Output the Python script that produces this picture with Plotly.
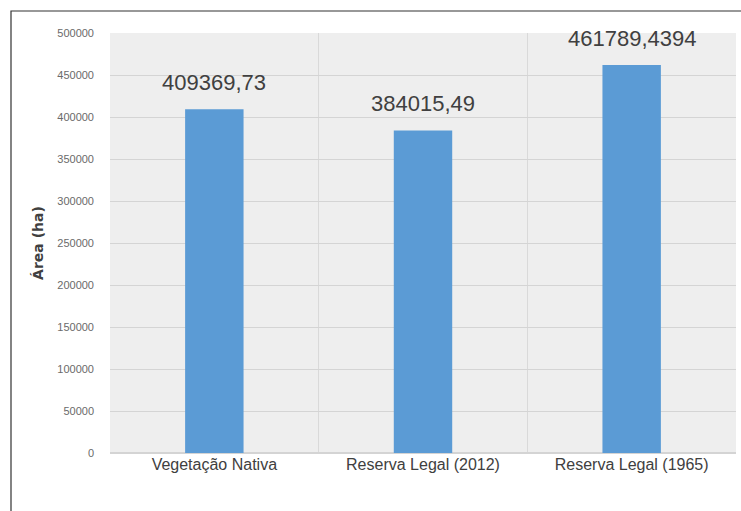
import plotly.graph_objects as go

categories = ["Vegetação Nativa", "Reserva Legal (2012)", "Reserva Legal (1965)"]
values = [409369.73, 384015.49, 461789.4394]
value_labels = ["409369,73", "384015,49", "461789,4394"]
y_ticks = [0, 50000, 100000, 150000, 200000, 250000, 300000, 350000, 400000, 450000, 500000]

W, H = 741, 511
L, R, T, B = 110, 5, 33, 58
pw, ph = W - L - R, H - T - B

fig = go.Figure(go.Bar(
    x=categories, y=values,
    marker=dict(color="#5b9bd5", line=dict(width=0)),
))

for c, v, t in zip(categories, values, value_labels):
    fig.add_annotation(x=c, y=v, text=t, showarrow=False, yanchor="middle", yshift=27,
                       font=dict(family="Liberation Sans, Arial, sans-serif", size=22, color="#404040"))

fig.update_layout(
    width=W, height=H, margin=dict(l=L, r=R, t=T, b=B),
    paper_bgcolor="white", plot_bgcolor="#eeeeee",
    bargap=0.72, showlegend=False,
    xaxis=dict(type="category", tickson="boundaries", showgrid=True, gridcolor="#d9d9d9",
               gridwidth=1, ticks="", showline=False,
               tickfont=dict(family="Liberation Sans, Arial, sans-serif", size=16, color="#404040")),
    yaxis=dict(range=[0, 500000], tickvals=y_ticks, ticktext=[str(v) for v in y_ticks],
               showgrid=True, gridcolor="#d4d4d4", gridwidth=1, zeroline=True, zerolinecolor="#d4d4d4",
               ticks="", ticklabelstandoff=15,
               tickfont=dict(family="Liberation Sans, Arial, sans-serif", size=11, color="#6a6a6a"),
               title=dict(text="<b>Área (ha)</b>", standoff=10,
                          font=dict(family="DejaVu Sans, sans-serif", size=14, color="#404040"))),
)

# outer chart border
fig.add_shape(type="rect", xref="paper", yref="paper",
              x0=(11 - L) / pw, x1=(W + 5 - L) / pw,
              y0=(H - (H + 5) - B) / ph, y1=(H - 11 - B) / ph,
              line=dict(color="#333333", width=1.2), fillcolor="rgba(0,0,0,0)", layer="above")

fig.write_html("out.html")
